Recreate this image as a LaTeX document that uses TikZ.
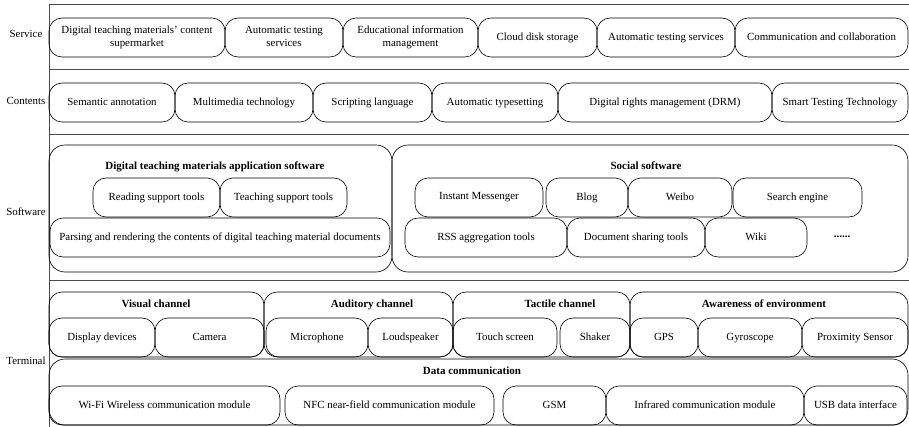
\documentclass[tikz,border=0pt]{standalone}
\usepackage{fontspec}
\setmainfont{Liberation Serif}
\newcommand\RB[7][rbx]{\node[#1,minimum width={#5-#3},minimum height={#6-#4}] (#2) at ({(#3+#5)/2},{(#4+#6)/2}) {#7};}
\begin{document}
\begin{tikzpicture}[x=1pt,y=-1pt,
  rbx/.style={draw, rounded corners=13pt, inner sep=1pt, outer sep=0pt, align=center,
    font=\fontsize{10.9}{13}\selectfont, line width=0.6pt, text depth=0.22em},
  bigbx/.style={rbx, rounded corners=16pt},
  ttl/.style={font=\fontsize{11}{13}\selectfont\bfseries, inner sep=0pt, text depth=0.22em},
  lbl/.style={font=\fontsize{10.9}{13}\selectfont, inner sep=0pt, text depth=0.22em},
  frame/.style={draw=black!70, line width=1pt}]
\useasboundingbox (0,0) rectangle (909,427);
% frame lines
\draw[frame] (49,5) -- (909,5);
\draw[frame] (49,70) -- (909,70);
\draw[frame] (49,135) -- (909,135);
\draw[frame] (49,281) -- (909,281);
\draw[frame] (49,5) -- (49,427);
% row labels
\node[lbl] (lservice) at (26,35) {Service};
\node[lbl] (lcontents) at (26,102) {Contents};
\node[lbl] (lsoftware) at (26,213) {Software};
\node[lbl] (lterminal) at (26,362) {Terminal};
% Service
\RB{s1}{49}{18}{225}{57}{Digital teaching materials' content\\supermarket}
\RB{s2}{225}{18}{343}{57}{Automatic testing\\services}
\RB{s3}{343}{18}{478}{57}{Educational information\\management}
\RB{s4}{478}{18}{597}{57}{Cloud disk storage}
\RB{s5}{597}{18}{735}{57}{Automatic testing services}
\RB{s6}{735}{18}{908}{57}{Communication and collaboration}
% Contents
\RB{c1}{49}{83}{175}{122}{Semantic annotation}
\RB{c2}{175}{83}{313}{122}{Multimedia technology}
\RB{c3}{313}{83}{432}{122}{Scripting language}
\RB{c4}{432}{83}{558}{122}{Automatic typesetting}
\RB{c5}{558}{83}{772}{122}{Digital rights management (DRM)}
\RB{c6}{772}{83}{908}{122}{Smart Testing Technology}
% Software
\RB[bigbx]{app}{49}{145}{392}{272}{}
\RB[bigbx]{soc}{392}{145}{908}{272}{}
\node[ttl] (apptitle) at (215,167) {Digital teaching materials application software};
\node[ttl] (soctitle) at (646,167) {Social software};
\RB{r1}{93}{178}{220}{217}{Reading support tools}
\RB{r2}{220}{178}{347}{217}{Teaching support tools}
\RB{r3}{50}{218}{390}{257}{Parsing and rendering the contents of digital teaching material documents}
\RB{so1}{415}{178}{543}{217}{Instant Messenger}
\RB{so2}{546}{178}{628}{217}{Blog}
\RB{so3}{628}{178}{732}{217}{Weibo}
\RB{so4}{733}{178}{862}{217}{Search engine}
\RB{so5}{405}{218}{567}{257}{RSS aggregation tools}
\RB{so6}{567}{218}{705}{257}{Document sharing tools}
\RB{so7}{705}{218}{807}{257}{Wiki}
\node[ttl] (dots) at (842,238) {......};
% Terminal
\RB{vis}{49}{292}{264}{357}{}
\node[ttl] (vistitle) at (156,305) {Visual channel};
\RB{t1}{49}{318}{155}{357}{Display devices}
\RB{t2}{155}{318}{264}{357}{Camera}
\RB{aud}{264}{292}{453}{357}{}
\node[ttl] (audtitle) at (372,305) {Auditory channel};
\RB{t3}{266}{318}{368}{357}{Microphone}
\RB{t4}{368}{318}{453}{357}{Loudspeaker}
\RB{tac}{453}{292}{630}{357}{}
\node[ttl] (tactitle) at (560,305) {Tactile channel};
\RB{t5}{453}{318}{557}{357}{Touch screen}
\RB{t6}{560}{318}{630}{357}{Shaker}
\RB{env}{630}{292}{908}{357}{}
\node[ttl] (envtitle) at (764,305) {Awareness of environment};
\RB{t7}{630}{318}{698}{357}{GPS}
\RB{t8}{698}{318}{802}{357}{Gyroscope}
\RB{t9}{802}{318}{908}{357}{Proximity Sensor}
\RB[bigbx]{data}{49}{359}{908}{425}{}
\node[ttl] (datatitle) at (472,372) {Data communication};
\RB{d1}{49}{386}{280}{425}{Wi-Fi Wireless communication module}
\RB{d2}{285}{386}{494}{425}{NFC near-field communication module}
\RB{d3}{503}{386}{606}{425}{GSM}
\RB{d4}{606}{386}{804}{425}{Infrared communication module}
\RB{d5}{804}{386}{907}{425}{USB data interface}
\end{tikzpicture}
\end{document}
